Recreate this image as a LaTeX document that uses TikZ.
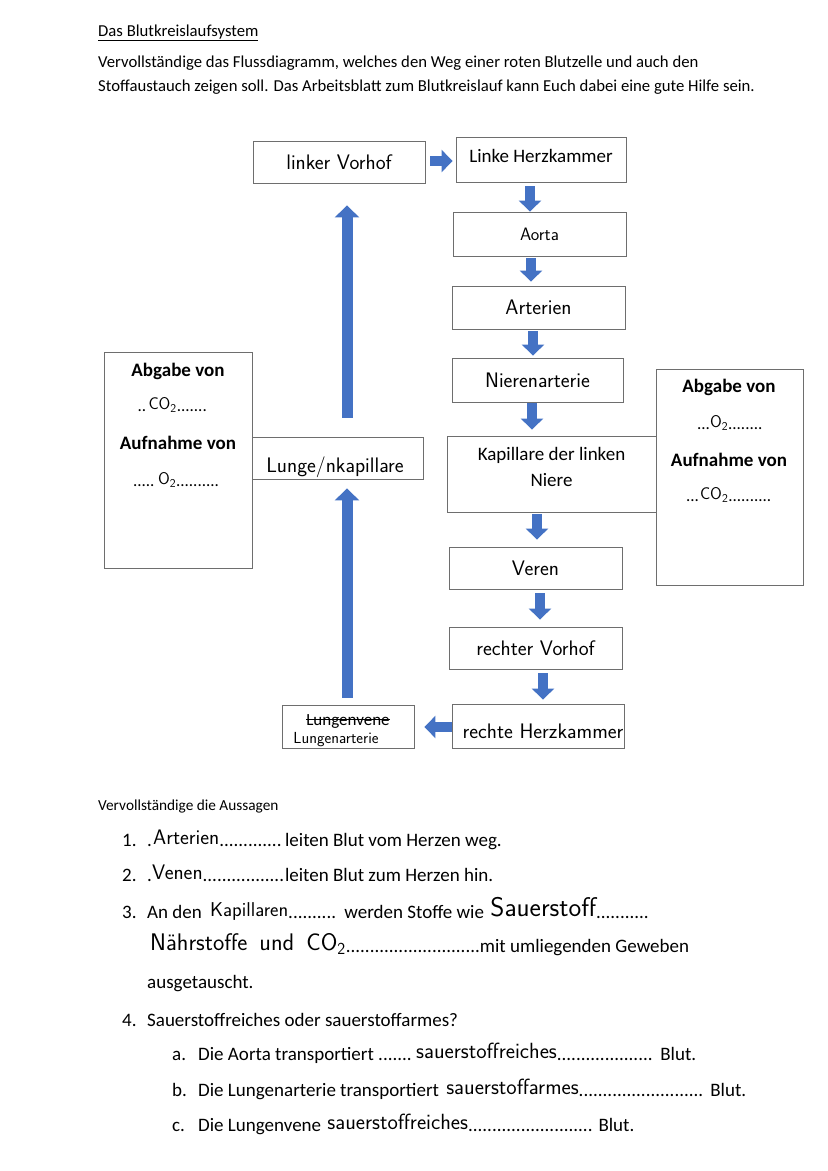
\documentclass[tikz,border=0pt]{standalone}
\usepackage{fontspec}
\setmainfont{Carlito}
\usetikzlibrary{arrows.meta}
\definecolor{flowblue}{HTML}{4472C4}
\definecolor{boxgray}{HTML}{6E6E6E}
\newcommand\hwfont{\sffamily}
\newsavebox\hwbox
\newcommand\dotrun[1]{\hbox to #1{\leaders\hbox{.}\hfill}}
\newcommand\fillin[3]{\sbox\hwbox{\raisebox{1.5pt}{\hwfont #3}}\dotrun{#2}\usebox\hwbox\dotrun{\dimexpr#1-#2-\wd\hwbox\relax}}
\newsavebox\strikebox
\newcommand\strikeout[1]{\sbox\strikebox{#1}\rlap{\usebox\strikebox}\rule[0.3em]{\wd\strikebox}{0.9pt}}
\begin{document}
\begin{tikzpicture}[x=1pt,y=-1pt,
  box/.style={draw=boxgray, line width=0.9pt, inner sep=0pt},
  flow/.style={draw=flowblue, line width=10pt, -{Triangle[width=22pt,length=11pt]}},
  longflow/.style={draw=flowblue, line width=11pt, -{Triangle[width=24pt,length=12pt]}},
  intro/.style={anchor=base west, inner sep=0pt, font=\fontsize{16.7}{20}\selectfont},
  small/.style={anchor=base west, inner sep=0pt, font=\fontsize{15.3}{18}\selectfont},
  item/.style={anchor=base west, inner sep=0pt, font=\fontsize{19}{22}\selectfont},
  boxtxt/.style={inner sep=0pt, font=\fontsize{19}{26}\selectfont, align=center},
  boldtxt/.style={anchor=base, inner sep=0pt, font=\bfseries\fontsize{19}{22}\selectfont},
  hw/.style={inner sep=0pt, font=\hwfont\fontsize{21}{24}\selectfont},
  hwsmall/.style={inner sep=0pt, font=\hwfont\fontsize{18}{20}\selectfont},
  fill18/.style={anchor=base, inner sep=0pt, font=\fontsize{17}{20}\selectfont}
]
\fill[white] (0,0) rectangle (828,1171);
\useasboundingbox (0,0) rectangle (828,1171);

% heading
\node[intro] (title) at (98,36) {\underline{Das Blutkreislaufsystem}};
\node[intro] (intro1) at (98,67) {Vervollständige das Flussdiagramm, welches den Weg einer roten Blutzelle und auch den};
\node[intro] (intro2) at (98,91) {Stoffaustauch zeigen soll. Das Arbeitsblatt zum Blutkreislauf kann Euch dabei eine gute Hilfe sein.};

% flow boxes
\node[box, minimum width=172pt, minimum height=42pt, hw] (lv) at (339,162) {linker Vorhof};
\node[box, minimum width=170pt, minimum height=45pt] (lh) at (541,159.5) {};
\node[boxtxt] (lhtext) at (541,156) {Linke Herzkammer};
\node[box, minimum width=173pt, minimum height=44pt, hwsmall] (aorta) at (539.5,234) {Aorta};
\node[box, minimum width=173pt, minimum height=43pt, hw] (arterien) at (538.5,307.5) {Arterien};
\node[box, minimum width=171pt, minimum height=44pt, hw] (nieren) at (537.5,380) {Nierenarterie};
\node[box, minimum width=209pt, minimum height=76pt] (kap) at (551.5,474) {};
\node[boxtxt] (kaptext) at (551.5,467) {Kapillare der linken\\Niere};
\node[box, minimum width=173pt, minimum height=42pt, hw] (veren) at (535.5,568) {Veren};
\node[box, minimum width=173pt, minimum height=42pt, hw] (rv) at (535.5,648) {rechter Vorhof};
\node[box, minimum width=172pt, minimum height=44pt] (rh) at (538,726) {};
\node[hw] (rhtext) at (543,731) {rechte Herzkammer};
\node[box, minimum width=132pt, minimum height=43pt] (lung) at (348,726.5) {};
\node[inner sep=0pt, font=\fontsize{17}{20}\selectfont] (lungvene) at (348,721) {\strikeout{Lungenvene}};
\node[inner sep=0pt, font=\hwfont\fontsize{16}{18}\selectfont] (lungart) at (336,740) {Lungenarterie};
\node[box, minimum width=171pt, minimum height=42pt] (lunge) at (337.5,458) {};
\node[hw] (lungetext) at (335,467) {Lunge/nkapillare};

% exchange boxes
\node[box, minimum width=148pt, minimum height=216pt] (lbox) at (178,460) {};
\node[boldtxt] (labg) at (178,376) {Abgabe von};
\node[fill18] (lco) at (174,411) {\fillin{73pt}{11pt}{CO\textsubscript{2}}};
\node[boldtxt] (lauf) at (178,449) {Aufnahme von};
\node[fill18] (lo) at (177.5,486) {\fillin{89pt}{25pt}{O\textsubscript{2}}};

\node[box, minimum width=147pt, minimum height=216pt] (rbox) at (729.5,477) {};
\node[boldtxt] (rabg) at (729,392) {Abgabe von};
\node[fill18] (ro) at (730,429) {\fillin{66pt}{13pt}{O\textsubscript{2}}};
\node[boldtxt] (rauf) at (729,466) {Aufnahme von};
\node[fill18] (rco) at (729.5,501) {\fillin{87pt}{14pt}{CO\textsubscript{2}}};

% arrows
\draw[flow, shorten <=5pt, shorten >=3pt] (lv.east |- 0,161) -- (lh.west |- 0,161);
\draw[flow, shorten <=4pt] (530,0 |- lh.south) -- (530,0 |- aorta.north);
\draw[flow, shorten <=2pt, shorten >=4pt] (531,0 |- aorta.south) -- (531,0 |- arterien.north);
\draw[flow, shorten <=2pt, shorten >=2pt] (533,0 |- arterien.south) -- (533,0 |- nieren.north);
\draw[flow, shorten <=1pt, shorten >=6pt] (532,0 |- nieren.south) -- (532,0 |- kap.north);
\draw[flow, shorten <=2pt, shorten >=7pt] (537,0 |- kap.south) -- (537,0 |- veren.north);
\draw[flow, shorten <=4pt, shorten >=7pt] (540,0 |- veren.south) -- (540,0 |- rv.north);
\draw[flow, shorten <=4pt, shorten >=4pt] (543,0 |- rv.south) -- (543,0 |- rh.north);
\draw[flow, shorten >=10pt] (rh.west |- 0,727) -- (lung.east |- 0,727);
\draw[longflow, shorten <=7pt, shorten >=9pt] (347,0 |- lung.north) -- (347,0 |- lunge.south);
\draw[longflow, shorten <=19pt, shorten >=22pt] (347,0 |- lunge.north) -- (347,0 |- lv.south);

% statements
\node[small] (aussagen) at (98,810) {Vervollständige die Aussagen};
\node[item] (n1) at (122,846) {1.};
\node[item] (s1) at (147,846) {\fillin{138pt}{6pt}{\fontsize{21}{24}\selectfont Arterien}leiten Blut vom Herzen weg.};
\node[item] (n2) at (122,881) {2.};
\node[item] (s2) at (147,881) {\fillin{138pt}{5pt}{\fontsize{21}{24}\selectfont Venen}leiten Blut zum Herzen hin.};
\node[item] (n3) at (122,918) {3.};
\node[item] (s3) at (147,918) {An den \fillin{134pt}{4pt}{\fontsize{20}{24}\selectfont Kapillaren} werden Stoffe wie \fillin{165pt}{2pt}{\fontsize{27}{30}\selectfont Sauerstoff}};
\node[item] (s3b) at (147,952) {\fillin{333pt}{3pt}{\fontsize{24}{26}\selectfont Nährstoffe\enspace und\enspace CO\textsubscript{2}}mit umliegenden Geweben};
\node[item] (s3c) at (147,988) {ausgetauscht.};
\node[item] (n4) at (122,1026) {4.};
\node[item] (s4) at (147,1026) {Sauerstoffreiches oder sauerstoffarmes?};
\node[item] (na) at (172,1060) {a.};
\node[item] (sa) at (198,1060) {Die Aorta transportiert \fillin{278pt}{38pt}{\fontsize{22}{24}\selectfont sauerstoffreiches} Blut.};
\node[item] (nb) at (172,1096) {b.};
\node[item] (sb) at (198,1096) {Die Lungenarterie transportiert \fillin{263pt}{3pt}{\fontsize{22}{24}\selectfont sauerstoffarmes} Blut.};
\node[item] (nc) at (172,1131) {c.};
\node[item] (sc) at (198,1131) {Die Lungenvene \fillin{269pt}{2pt}{\fontsize{22}{24}\selectfont sauerstoffreiches} Blut.};
\end{tikzpicture}
\end{document}
